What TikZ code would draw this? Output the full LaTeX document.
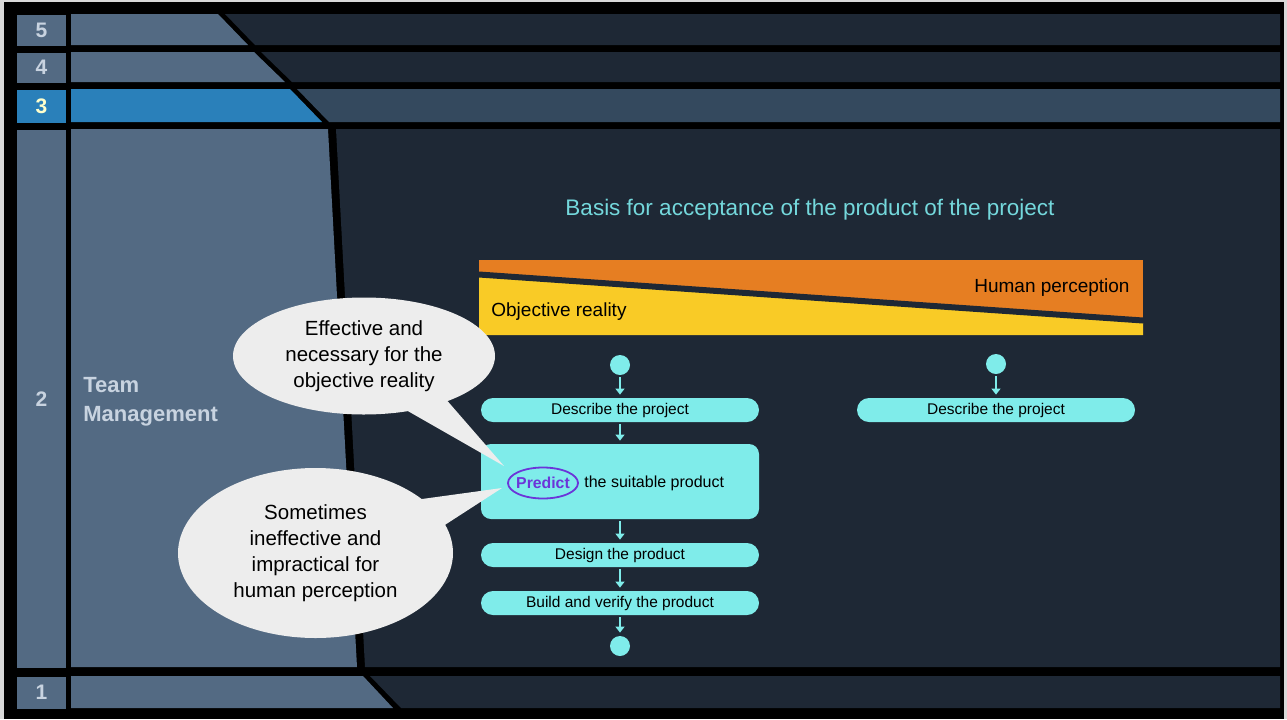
\documentclass[tikz,border=0pt]{standalone}
\usepackage{fontspec}
\setmainfont{Liberation Sans}
\usetikzlibrary{shapes.geometric, shapes.callouts, arrows.meta}

\definecolor{slate}{HTML}{536A83}
\definecolor{night}{HTML}{1E2835}
\definecolor{steel}{HTML}{34495E}
\definecolor{sky}{HTML}{2A80BA}
\definecolor{aqua}{HTML}{7FECEA}
\definecolor{heading}{HTML}{74D8DC}
\definecolor{tangerine}{HTML}{E67E22}
\definecolor{sun}{HTML}{F9CB26}
\definecolor{violet}{HTML}{6B35D9}
\definecolor{cloud}{HTML}{EDEDED}
\definecolor{pale}{HTML}{C8D3E0}
\definecolor{cream}{HTML}{FFFFCC}

\begin{document}
\begin{tikzpicture}[x=0.5pt, y=-0.5pt,
        levelnum/.style={fill=slate, text=pale, inner sep=0pt, minimum width=24.5pt, font=\fontsize{10.5}{12}\selectfont\bfseries},
        stepbox/.style={fill=aqua, rounded corners=6pt, minimum width=139pt, minimum height=12pt, inner sep=0pt, font=\fontsize{7.75}{9}\selectfont},
        dot/.style={circle, fill=aqua, minimum size=10pt, inner sep=0pt},
        flow/.style={aqua, line width=0.7pt, -{Triangle[width=4.5pt,length=3pt]}, shorten <=1pt, shorten >=1.5pt},
        bubble/.style={ellipse callout, fill=cloud, callout pointer arc=20, align=center, inner sep=0pt, font=\fontsize{10.25}{13}\selectfont}
    ]
    \useasboundingbox (0,0) rectangle (1287,719);
    \fill[black!15] (0,0) rectangle (1287,719); % Slide edge
    \fill[black] (4,2) rectangle (1284,719);

    % Level rows
    \fill[slate] (71,14) -- (218,14) -- (248,45) -- (71,45) -- cycle; % 5
    \fill[night] (225,14) -- (1280,14) -- (1280,45) -- (255,45) -- cycle;
    \fill[slate] (71,52) -- (254,52) -- (285,82) -- (71,82) -- cycle; % 4
    \fill[night] (261,52) -- (1280,52) -- (1280,82) -- (292,82) -- cycle;
    \fill[sky] (71,89) -- (290,89) -- (322,122) -- (71,122) -- cycle; % 3
    \fill[steel] (297,89) -- (1280,89) -- (1280,122) -- (329,122) -- cycle;
    \fill[slate] (71,129) -- (328,129) -- (357,667) -- (71,667) -- cycle; % 2
    \fill[night] (336,129) -- (1280,129) -- (1280,667) -- (365,667) -- cycle;
    \fill[slate] (71,676) -- (363,676) -- (393,708) -- (71,708) -- cycle; % 1
    \fill[night] (370,676) -- (1280,676) -- (1280,708) -- (401,708) -- cycle;

    \node[levelnum, minimum height=15.5pt] (lv5) at (41.5,30) {5};
    \node[levelnum, minimum height=15pt] (lv4) at (41.5,67.5) {4};
    \node[levelnum, minimum height=16.5pt, fill=sky, text=cream] (lv3) at (41.5,106) {3};
    \node[levelnum, minimum height=269pt] (lv2) at (41.5,399) {2};
    \node[levelnum, minimum height=16pt] (lv1) at (41.5,692.5) {1};

    \node[anchor=west, align=left, inner sep=0pt, text=pale, font=\fontsize{11}{14.5}\selectfont\bfseries] (team) at (83,402) {Team\\Management};

    % Title and perception bar
    \node[text=heading, font=\fontsize{11.25}{13}\selectfont] (title) at (810,210) {Basis for acceptance of the product of the project};
    \fill[tangerine] (479,260) rectangle (1143,335);
    \fill[sun] (479,277) -- (1143,323) -- (1143,335) -- (479,335) -- cycle;
    \draw[night, line width=3pt] (479,274.5) -- (1143,320.5);
    \node[anchor=east, inner sep=0pt, font=\fontsize{9.5}{11}\selectfont] (human) at (1130,288) {Human perception};
    \node[anchor=west, inner sep=0pt, font=\fontsize{9.5}{11}\selectfont] (objective) at (491,312) {Objective reality};

    % Left process
    \node[dot] (startA) at (620,365) {};
    \node[stepbox] (describeA) at (620,410) {Describe the project};
    \node[stepbox, minimum height=37.5pt, rounded corners=5pt] (predictbox) at (620,481.5) {};
    \node[ellipse, draw=violet, line width=0.9pt, text=violet, minimum width=35pt, minimum height=15.5pt, inner xsep=-5pt, inner ysep=-1pt, font=\fontsize{7.9}{9}\selectfont\bfseries] (predict) at (543,483) {Predict};
    \node[anchor=west, inner sep=0pt, font=\fontsize{8}{9}\selectfont] (suitable) at (584,483) {the suitable product};
    \node[stepbox] (design) at (620,555) {Design the product};
    \node[stepbox] (build) at (620,603) {Build and verify the product};
    \node[dot] (endA) at (620,646) {};

    \draw[flow] (startA) -- (describeA);
    \draw[flow] (describeA) -- (predictbox);
    \draw[flow] (predictbox) -- (design);
    \draw[flow] (design) -- (build);
    \draw[flow] (build) -- (endA);

    % Right process
    \node[dot] (startB) at (996,364) {};
    \node[stepbox] (describeB) at (996,410) {Describe the project};
    \draw[flow] (startB) -- (describeB);

    % Callouts
    \coordinate (tipA) at (504,466);
    \coordinate (tipB) at (502,488);
    \node[bubble, minimum width=131pt, minimum height=58.5pt, callout absolute pointer=(tipA)] (effective) at (364,356) {Effective and\\necessary for the\\objective reality};
    \node[bubble, minimum width=137.5pt, minimum height=85pt, callout absolute pointer=(tipB)] (sometimes) at (315.5,553) {Sometimes\\ineffective and\\impractical for\\human perception};
\end{tikzpicture}
\end{document}
